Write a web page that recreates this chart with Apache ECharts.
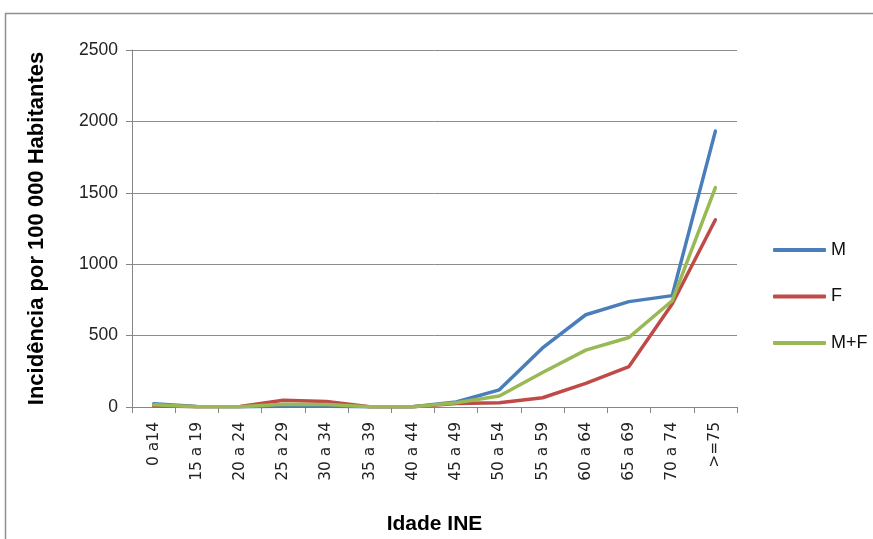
<!DOCTYPE html>
<html>
<head>
<meta charset="utf-8">
<script src="https://cdn.jsdelivr.net/npm/echarts@6/dist/echarts.min.js"></script>
<style>
  html, body { margin: 0; padding: 0; background: #fff; overflow: hidden; }
  #chart { width: 873px; height: 539px; }
</style>
</head>
<body>
<div id="chart"></div>
<script>
// Age groups (INE) and incidence per 100 000 inhabitants
const ageGroups = ['0 a14', '15 a 19', '20 a 24', '25 a 29', '30 a 34', '35 a 39', '40 a 44',
                   '45 a 49', '50 a 54', '55 a 59', '60 a 64', '65 a 69', '70 a 74', '>=75'];
const male   = [22, 3, 2, 5, 5, 1, 2, 35, 120, 414, 646, 738, 780, 1932];
const female = [8, 1, 3, 48, 38, 2, 2, 25, 30, 65, 165, 283, 721, 1311];
const total  = [15, 2, 2, 20, 18, 2, 2, 30, 77, 241, 398, 487, 744, 1536];
const yTicks = [0, 500, 1000, 1500, 2000, 2500];

const seriesNames = ['M', 'F', 'M+F'];
const seriesColors = ['#4A7EBB', '#BE4B48', '#98B954'];
const seriesData = [male, female, total];

const chart = echarts.init(document.getElementById('chart'), null, { renderer: 'canvas' });

const axisGray = '#868686';

chart.setOption({
  animation: false,
  backgroundColor: '#fff',
  graphic: [{
    type: 'rect',
    shape: { x: 5.5, y: 13.5, width: 900, height: 600 },
    style: { fill: 'none', stroke: '#8f8f8f', lineWidth: 1.5 },
    silent: true
  }],
  grid: { left: 132, right: 136, top: 50, bottom: 132, outerBoundsMode: 'none', containLabel: false },
  legend: {
    orient: 'vertical',
    left: 773,
    top: 240,
    padding: 0,
    itemWidth: 53,
    itemHeight: 4,
    itemGap: 26.5,
    icon: 'roundRect',
    data: seriesNames,
    textStyle: { fontFamily: 'Liberation Sans', fontSize: 18, color: '#111', lineHeight: 20 }
  },
  xAxis: {
    type: 'category',
    data: ageGroups,
    boundaryGap: true,
    name: 'Idade INE',
    nameLocation: 'middle',
    nameGap: 107,
    nameTextStyle: { fontFamily: 'Liberation Sans', fontWeight: 'bold', fontSize: 21, color: '#000' },
    axisLine: { lineStyle: { color: axisGray, width: 1 } },
    axisTick: { show: true, length: 6, alignWithLabel: false, lineStyle: { color: axisGray } },
    axisLabel: {
      rotate: 90,
      interval: 0,
      margin: 15,
      fontFamily: 'DejaVu Sans',
      fontSize: 15.5,
      color: '#222'
    },
    splitLine: { show: false }
  },
  yAxis: {
    type: 'value',
    min: yTicks[0],
    max: yTicks[yTicks.length - 1],
    interval: yTicks[1] - yTicks[0],
    name: 'Incidência por 100 000 Habitantes',
    nameLocation: 'middle',
    nameGap: 84,
    nameRotate: 90,
    nameTextStyle: { fontFamily: 'Liberation Sans', fontWeight: 'bold', fontSize: 22, color: '#000' },
    axisLine: { show: true, lineStyle: { color: axisGray, width: 1 } },
    axisTick: { show: true, length: 6, lineStyle: { color: axisGray } },
    axisLabel: {
      margin: 14,
      fontFamily: 'Liberation Sans',
      fontSize: 17.5,
      color: '#222',
      formatter: (v) => String(v)
    },
    splitLine: { show: true, lineStyle: { color: '#8c8c8c', width: 1 } }
  },
  series: seriesNames.map((name, i) => ({
    name: name,
    type: 'line',
    data: seriesData[i],
    symbol: 'none',
    smooth: false,
    lineStyle: { color: seriesColors[i], width: 3.5, cap: 'round', join: 'round' },
    itemStyle: { color: seriesColors[i] }
  }))
});
</script>
</body>
</html>
